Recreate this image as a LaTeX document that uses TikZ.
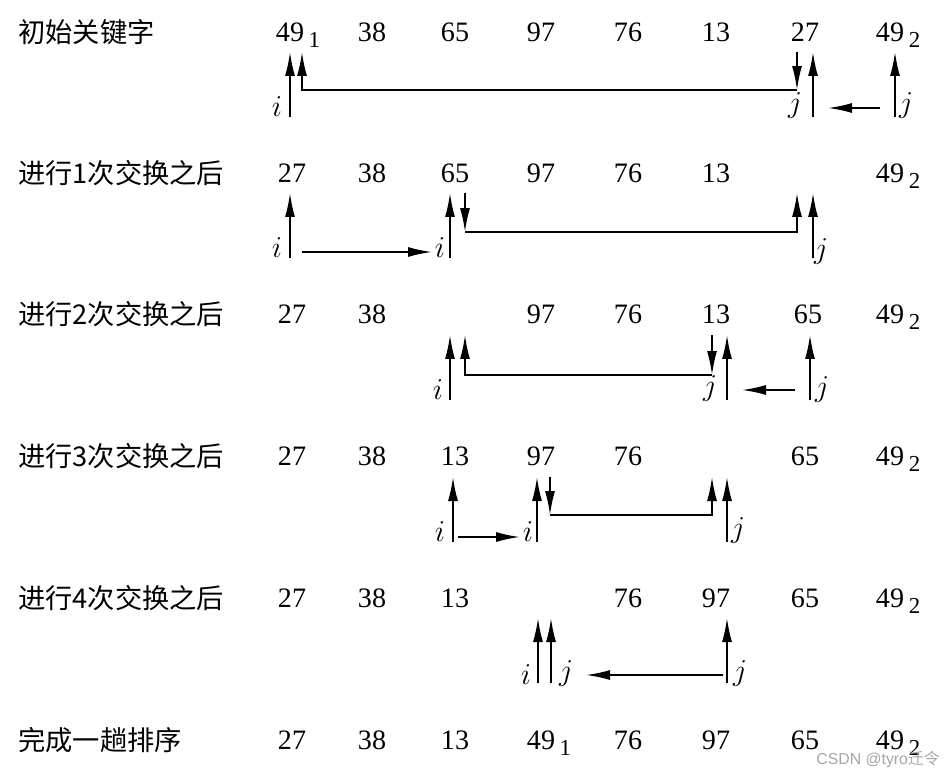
\documentclass[tikz,border=0pt]{standalone}
\usepackage{fontspec}
\setmainfont{Liberation Serif}
\newfontfamily\cjk{Noto Sans CJK SC}
\newfontfamily\wmfont{Liberation Sans}
\usetikzlibrary{arrows.meta}
\newcommand{\subidx}[1]{\rlap{\raisebox{-3.5pt}{\,\fontsize{13}{13}\selectfont#1}}}
\tikzset{
  key/.style={font=\fontsize{16}{16}\selectfont, inner sep=0pt, text height=10.5pt, text depth=0pt},
  rowlab/.style={font=\cjk\fontsize{15.5}{16}\selectfont, anchor=west, inner sep=0pt},
  var/.style={font=\fontsize{17}{17}\selectfont, anchor=base, inner sep=0pt},
  ptr/.style={-{Latex[length=4.8mm,width=2mm]}, line width=1pt}
}
\begin{document}
\begin{tikzpicture}[x=0.02cm,y=-0.02cm]
\useasboundingbox (0,0) rectangle (949,770);

% row labels
\node[rowlab] (lab1) at (18,32) {初始关键字};
\node[rowlab] (lab2) at (18,173) {进行1次交换之后};
\node[rowlab] (lab3) at (18,314) {进行2次交换之后};
\node[rowlab] (lab4) at (18,456) {进行3次交换之后};
\node[rowlab] (lab5) at (18,598) {进行4次交换之后};
\node[rowlab] (lab6) at (18,740) {完成一趟排序};

% row 1
\node[key] (k11) at (290,32) {49\subidx{1}};
\node[key] (k12) at (372,32) {38};
\node[key] (k13) at (455,32) {65};
\node[key] (k14) at (541,32) {97};
\node[key] (k15) at (628,32) {76};
\node[key] (k16) at (716,32) {13};
\node[key] (k17) at (805,32) {27};
\node[key] (k18) at (890,32) {49\subidx{2}};

\draw[ptr] (290,117) -- (290,52);
\draw[ptr] (797,52) -- (797,90);
\draw[ptr] (797,90) -| (302,52);
\draw[ptr] (813,117) -- (813,52);
\draw[ptr] (880,108) -- (828,108);
\draw[ptr] (895,117) -- (895,52);
\node[var] (i1) at (277,117) {$i$};
\node[var] (j1a) at (795,113) {$j$};
\node[var] (j1b) at (906,113) {$j$};

% row 2
\node[key] (k21) at (292,173) {27};
\node[key] (k22) at (372,173) {38};
\node[key] (k23) at (455,173) {65};
\node[key] (k24) at (541,173) {97};
\node[key] (k25) at (628,173) {76};
\node[key] (k26) at (716,173) {13};
\node[key] (k28) at (890,173) {49\subidx{2}};

\draw[ptr] (290,258) -- (290,193);
\draw[ptr] (302,252) -- (432,252);
\draw[ptr] (450,258) -- (450,193);
\draw[ptr] (465,193) -- (465,232);
\draw[ptr] (465,232) -| (797,193);
\draw[ptr] (813,258) -- (813,193);
\node[var] (i2a) at (277,257) {$i$};
\node[var] (i2b) at (440,257) {$i$};
\node[var] (j2) at (821,258) {$j$};

% row 3
\node[key] (k31) at (292,314) {27};
\node[key] (k32) at (372,314) {38};
\node[key] (k34) at (541,314) {97};
\node[key] (k35) at (628,314) {76};
\node[key] (k36) at (716,314) {13};
\node[key] (k37) at (808,314) {65};
\node[key] (k38) at (890,314) {49\subidx{2}};

\draw[ptr] (450,400) -- (450,335);
\draw[ptr] (712,335) -- (712,375);
\draw[ptr] (712,375) -| (465,335);
\draw[ptr] (727,400) -- (727,335);
\draw[ptr] (795,390) -- (742,390);
\draw[ptr] (810,400) -- (810,335);
\node[var] (i3) at (438,399) {$i$};
\node[var] (j3a) at (710,395) {$j$};
\node[var] (j3b) at (822,396) {$j$};

% row 4
\node[key] (k41) at (292,456) {27};
\node[key] (k42) at (372,456) {38};
\node[key] (k43) at (455,456) {13};
\node[key] (k44) at (541,456) {97};
\node[key] (k45) at (628,456) {76};
\node[key] (k47) at (805,456) {65};
\node[key] (k48) at (890,456) {49\subidx{2}};

\draw[ptr] (453,542) -- (453,477);
\draw[ptr] (458,537) -- (520,537);
\draw[ptr] (537,542) -- (537,477);
\draw[ptr] (550,477) -- (550,515);
\draw[ptr] (550,515) -| (712,477);
\draw[ptr] (727,542) -- (727,477);
\node[var] (i4a) at (440,541) {$i$};
\node[var] (i4b) at (528,541) {$i$};
\node[var] (j4) at (738,537) {$j$};

% row 5
\node[key] (k51) at (292,598) {27};
\node[key] (k52) at (372,598) {38};
\node[key] (k53) at (455,598) {13};
\node[key] (k55) at (628,598) {76};
\node[key] (k56) at (716,598) {97};
\node[key] (k57) at (805,598) {65};
\node[key] (k58) at (890,598) {49\subidx{2}};

\draw[ptr] (538,683) -- (538,618);
\draw[ptr] (551,683) -- (551,618);
\draw[ptr] (723,675) -- (586,675);
\draw[ptr] (727,683) -- (727,618);
\node[var] (i5) at (526,684) {$i$};
\node[var] (j5a) at (566,680) {$j$};
\node[var] (j5b) at (740,680) {$j$};

% row 6
\node[key] (k61) at (292,740) {27};
\node[key] (k62) at (372,740) {38};
\node[key] (k63) at (455,740) {13};
\node[key] (k64) at (541,740) {49\subidx{1}};
\node[key] (k65) at (628,740) {76};
\node[key] (k66) at (716,740) {97};
\node[key] (k67) at (805,740) {65};
\node[key] (k68) at (890,740) {49\subidx{2}};

\node[font=\wmfont\fontsize{9}{9}\selectfont, text=gray!70, anchor=south east, inner sep=0pt] (wm) at (940,768) {CSDN @tyro{\cjk 迁令}};
\end{tikzpicture}
\end{document}
